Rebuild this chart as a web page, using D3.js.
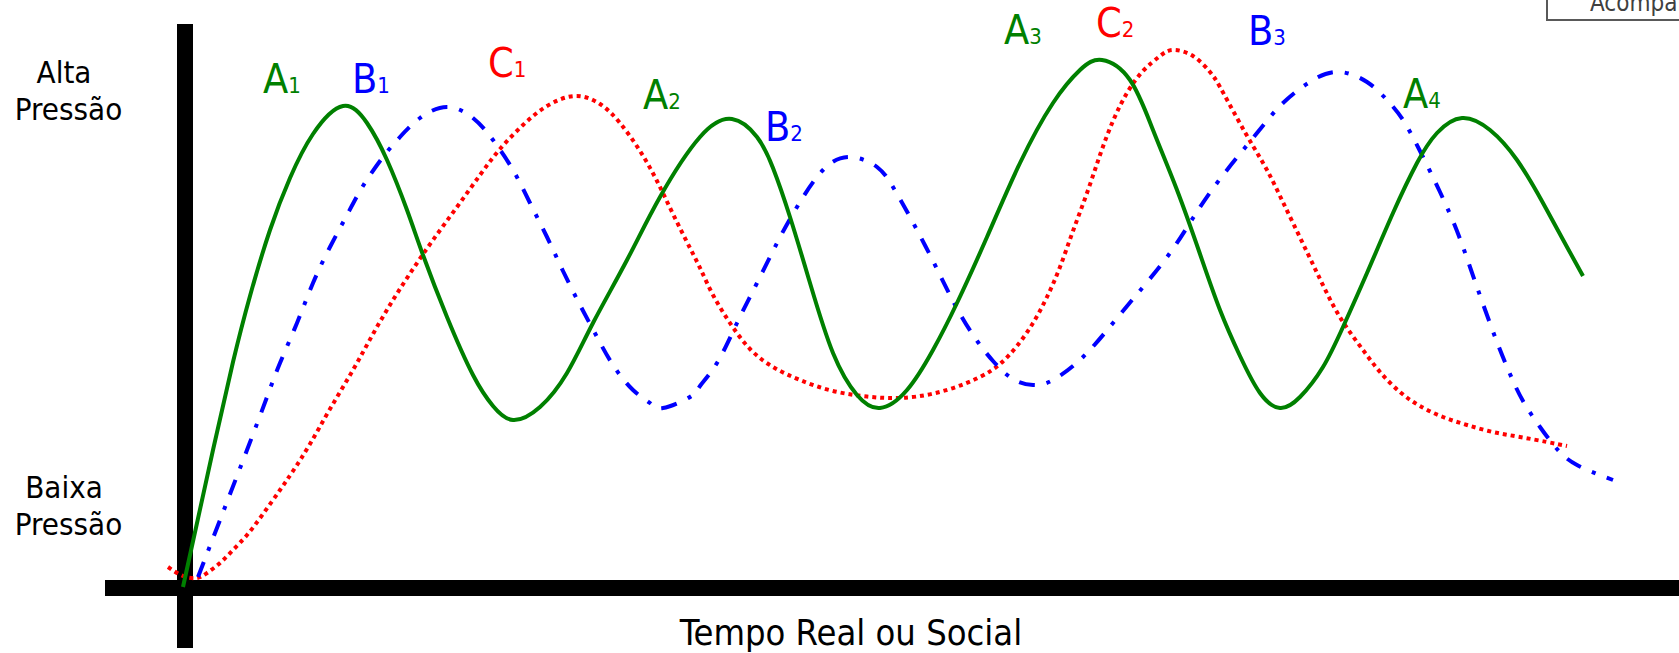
<!DOCTYPE html>
<html>
<head>
<meta charset="utf-8">
<script src="https://cdn.jsdelivr.net/npm/d3@7"></script>
<style>
  html, body { margin: 0; padding: 0; background: #fff; overflow: hidden; }
  svg { display: block; }
  text { font-family: "DejaVu Sans Condensed", "DejaVu Sans", sans-serif; }
</style>
</head>
<body>
<svg id="chart" width="1679" height="653"></svg>
<script>
// ---- DATA (time t, pressure p) ----
const seriesA = [
  [-0.2,0.2],[2.8,27.6],[4.8,45.2],[6.5,58.4],[8.5,71.6],[10.5,82],[12.8,90.8],[15.8,96.4],
  [18.2,93],[20.2,85.6],[22.2,75.6],[23.8,66.6],[26.2,54.2],[28.8,42.6],[30.8,36.4],[32.8,33.6],
  [35.5,36.2],[38.2,43],[40.8,53],[44.2,65.6],[47.5,78.2],[51.5,90.2],[54.7,93.8],
  [57.2,90.2],[58.8,84],[60.5,74.2],[62.5,61],[64.8,47],[67.2,38.6],[69.5,36],
  [72.2,39.6],[74.8,47.6],[77.2,57],[80.2,70.2],[83.5,85],[86.8,97],[89.5,103.6],[91.7,105.6],
  [94.5,101.6],[96.8,91.6],[99.2,79.6],[101.5,66.8],[103.5,55.6],[105.5,46.4],[107.5,39],[109.5,36],
  [111.5,38.2],[113.8,44.2],[115.8,52.2],[118.2,63],[120.8,75],[123.2,85],[125.2,91],[127.7,94],
  [130.5,91.6],[133.2,85.6],[135.8,77],[138.2,68.2],[139.8,62.4]
];
const seriesB = [
  [1.3,2.2],[6.2,27.6],[8.2,38.2],[9.5,45],[11.2,53],[12.8,61],[14.5,68.2],[16.2,74.6],[17.8,80.4],
  [19.8,86.2],[21.5,90.2],[23.5,94],[26.2,96.2],[28.8,94],[30.8,89.6],[32.8,83.6],[34.5,77],
  [36.2,70.2],[37.8,63.4],[39.5,56.6],[41.2,50.2],[42.8,44.6],[44.8,39.6],[46.5,37],[47.8,36],
  [50.5,38.2],[51.5,40.4],[53.2,45],[55.2,53],[57.2,61],[59.2,69],[61.2,76.2],[63.8,83.6],
  [66.5,86.2],[69.2,84.2],[70.8,80.2],[72.5,74.2],[74.8,65.4],[76.8,57.4],[78.8,50.6],[80.8,45.4],
  [82.8,41.8],[84.8,40.6],[86.8,41.6],[89.8,46.2],[92.8,53],[95.8,60.2],[98.5,67],[100.8,74],
  [103.5,81.8],[107.2,91],[109.8,97],[112.8,101.6],[115.5,103.2],[118.2,101.2],[120.2,97.6],
  [121.8,93.6],[123.5,87.4],[125.5,79.2],[127.2,71.4],[128.5,64.2],[129.8,56.8],[131.2,49.2],[132.5,42.8],
  [133.8,37.4],[135.5,32.2],[137.2,27.8],[139.2,24.6],[142.8,21.6]
];
const seriesC = [
  [-1.7,4.2],[-0.2,2.4],[1.2,2],[2.2,3],[3.5,5],[4.8,7.6],[6.2,10.6],[7.8,14.8],[9.5,19.6],
  [10.8,23.4],[12.5,28.8],[14.5,35.8],[16.8,43.6],[18.8,50.8],[20.8,57.6],[22.8,63.8],[24.8,69.6],
  [27.2,76.2],[29.5,82.6],[31.5,87.8],[33.8,92.6],[36.2,96.4],[39,98.4],[41.5,96.8],[43.5,93],
  [45.5,87.4],[47.2,81.4],[48.8,74.8],[50.5,68],[51.6,63.6],[52.8,58.6],[54.5,53],[56.5,47.8],
  [58.8,44.2],[61.5,41.6],[64.8,39.4],[68.2,38.3],[70.5,38],[73.2,38.3],[76.5,39.8],[79.5,42.2],
  [81.5,44.8],[83.2,48.4],[84.8,53],[86.2,58.2],[87.5,64.2],[88.8,71.4],[90.2,79],[91.5,86.6],
  [92.8,93.4],[94.2,99],[95.8,103.4],[97.5,106.4],[98.8,107.6],[100.8,106.4],[102.5,103.2],
  [103.5,100.2],[105.2,94],[106.8,88.4],[108.2,83.6],[109.5,78.4],[110.8,73],[112.2,67.2],
  [113.5,61.8],[114.8,56.6],[116.2,52],[117.8,47.6],[119.5,43.2],[121.5,39.2],[123.5,36.4],
  [125.8,34.2],[128.2,32.6],[130.8,31.2],[133.5,30.2],[136.2,29.2],[138.2,28.4]
];
const peakLabels = [
  { series: "A", letter: "A", sub: "1", t: 7.8,   p: 99 },
  { series: "B", letter: "B", sub: "1", t: 16.7,  p: 99 },
  { series: "C", letter: "C", sub: "1", t: 30.3,  p: 102.2 },
  { series: "A", letter: "A", sub: "2", t: 45.8,  p: 95.8 },
  { series: "B", letter: "B", sub: "2", t: 58.0,  p: 89.4 },
  { series: "A", letter: "A", sub: "3", t: 81.9,  p: 108.8 },
  { series: "C", letter: "C", sub: "2", t: 91.1,  p: 110.2 },
  { series: "B", letter: "B", sub: "3", t: 106.3, p: 108.6 },
  { series: "A", letter: "A", sub: "4", t: 121.8, p: 96 }
];
const yTickLabels = [
  { lines: ["Alta", "Pressão"],  p: 101 },
  { lines: ["Baixa", "Pressão"], p: 18 }
];
const xAxisTitle = "Tempo Real ou Social";
const legendText = "Acompanhamento";

// ---- STYLES ----
const styles = {
  A: { color: "#008000", dash: null },
  B: { color: "#0000FF", dash: "16,12,4,12" },
  C: { color: "#FF0000", dash: "4,4" }
};

const svg = d3.select("#chart");
const x = d3.scaleLinear().domain([0, 150]).range([185, 1685]);
const y = d3.scaleLinear().domain([0, 100]).range([588, 88]);

// legend box (partially off-canvas)
svg.append("rect")
  .attr("x", 1547).attr("y", -10).attr("width", 200).attr("height", 30)
  .attr("fill", "#fff").attr("stroke", "#595959").attr("stroke-width", 2);
svg.append("text")
  .attr("x", 1590).attr("y", 11)
  .attr("font-size", 24).attr("fill", "#404040")
  .text(legendText);

// axes (thick black bars)
svg.append("line")
  .attr("x1", x(0)).attr("x2", x(0)).attr("y1", 24).attr("y2", 648)
  .attr("stroke", "#000").attr("stroke-width", 16);
svg.append("line")
  .attr("x1", 105).attr("x2", 1679).attr("y1", y(0)).attr("y2", y(0))
  .attr("stroke", "#000").attr("stroke-width", 16);

// curves
const line = d3.line()
  .x(d => x(d[0])).y(d => y(d[1]))
  .curve(d3.curveNatural);

[["C", seriesC], ["B", seriesB], ["A", seriesA]].forEach(([k, data]) => {
  svg.append("path")
    .datum(data)
    .attr("d", line)
    .attr("fill", "none")
    .attr("stroke", styles[k].color)
    .attr("stroke-width", 4)
    .attr("stroke-dasharray", styles[k].dash)
    .attr("stroke-linecap", "butt")
    .attr("stroke-linejoin", "round");
});

// peak labels
peakLabels.forEach(l => {
  const t = svg.append("text")
    .attr("x", x(l.t)).attr("y", y(l.p))
    .attr("fill", styles[l.series].color)
    .attr("font-size", 41);
  t.append("tspan").text(l.letter);
  t.append("tspan").attr("font-size", 22).text(l.sub);
});

// y labels
const lineOffsets = [64, 68.5];
yTickLabels.forEach(lab => {
  const t = svg.append("text")
    .attr("y", y(lab.p))
    .attr("font-size", 31).attr("fill", "#000")
    .attr("text-anchor", "middle");
  lab.lines.forEach((s, i) => {
    t.append("tspan").attr("x", lineOffsets[i]).attr("dy", i === 0 ? 0 : 37).text(s);
  });
});

// x axis title
svg.append("text")
  .attr("x", 851).attr("y", 645)
  .attr("font-size", 36).attr("text-anchor", "middle").attr("fill", "#000")
  .text(xAxisTitle);
</script>
</body>
</html>
